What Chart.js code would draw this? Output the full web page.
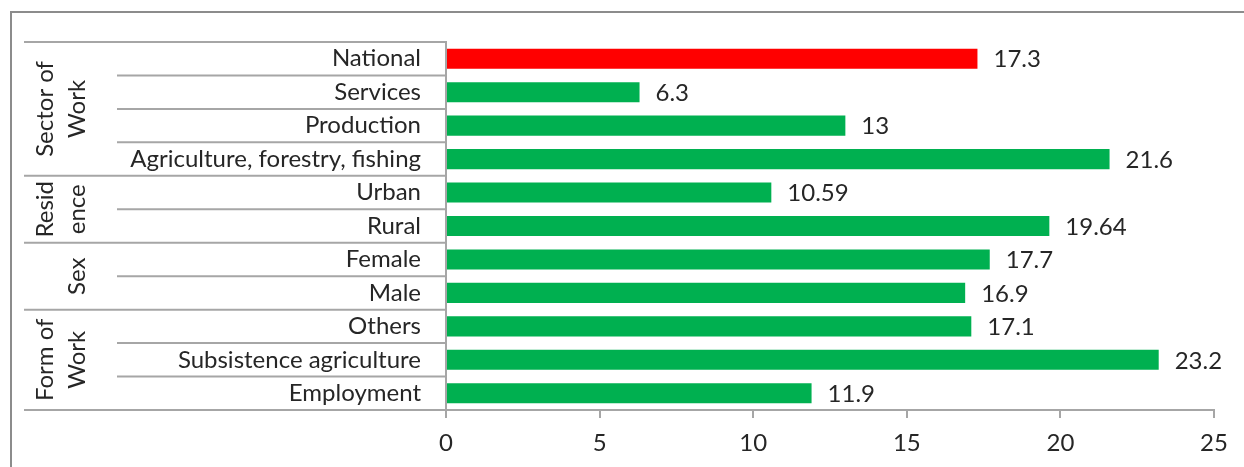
<!DOCTYPE html>
<html>
<head>
<meta charset="utf-8">
<script src="https://cdn.jsdelivr.net/npm/chart.js@4.4.0/dist/chart.umd.min.js"></script>
<style>
  html, body { margin: 0; padding: 0; background: #fff; }
  #wrap { position: relative; width: 1244px; height: 467px; }
</style>
</head>
<body>
<div id="wrap"><canvas id="myChart"></canvas></div>
<script>
const categories = ["National", "Services", "Production", "Agriculture, forestry, fishing",
  "Urban", "Rural", "Female", "Male", "Others", "Subsistence agriculture", "Employment"];
const values = [17.3, 6.3, 13, 21.6, 10.59, 19.64, 17.7, 16.9, 17.1, 23.2, 11.9];
const barColors = ["#FF0000", "#00B050", "#00B050", "#00B050", "#00B050", "#00B050",
  "#00B050", "#00B050", "#00B050", "#00B050", "#00B050"];
const xTicks = [0, 5, 10, 15, 20, 25];
// group name, first row, row count
const groupNames = ["Sector of\nWork", "Resid\nence", "\nSex", "Form of\nWork"];
const groupStart = [0, 4, 6, 8];
const groupSize = [4, 2, 2, 3];

const font = "Lato, 'Liberation Sans', sans-serif";
const fontSize = 24;
const lineColor = "#a6a6a6";

const extras = {
  id: "extras",
  afterDraw(chart) {
    const ctx = chart.ctx;
    const y = chart.scales.y;
    const area = chart.chartArea;
    const step = (area.bottom - area.top) / categories.length;
    ctx.save();
    // outer frame
    ctx.strokeStyle = "#8c8c8c";
    ctx.lineWidth = 2;
    ctx.beginPath();
    ctx.moveTo(11, 467);
    ctx.lineTo(11, 12);
    ctx.lineTo(1244, 12);
    ctx.stroke();

    // row separators
    ctx.strokeStyle = lineColor;
    ctx.lineWidth = 2;
    for (let i = 0; i <= categories.length; i++) {
      const yy = y.getPixelForValue(i) - step / 2;
      const isGroupEdge = i === categories.length || groupStart.includes(i);
      ctx.beginPath();
      ctx.moveTo(isGroupEdge ? 24 : 117, yy);
      ctx.lineTo(area.left, yy);
      ctx.stroke();
    }

    // group labels, rotated
    ctx.fillStyle = "#262626";
    ctx.font = fontSize + "px " + font;
    ctx.textAlign = "center";
    ctx.textBaseline = "middle";
    for (let g = 0; g < groupNames.length; g++) {
      const top = y.getPixelForValue(groupStart[g]) - step / 2;
      const bottom = top + groupSize[g] * step;
      const lines = groupNames[g].split("\n");
      ctx.save();
      ctx.translate(61, (top + bottom) / 2);
      ctx.rotate(-Math.PI / 2);
      lines.forEach((t, k) => {
        ctx.fillText(t, 0, (k - (lines.length - 1) / 2) * 32);
      });
      ctx.restore();
    }

    // value labels
    ctx.textAlign = "left";
    const meta = chart.getDatasetMeta(0);
    meta.data.forEach((bar, i) => {
      ctx.fillText(String(values[i]), bar.x + 16, bar.y + 1);
    });
    ctx.restore();
  }
};

new Chart("myChart", {
  type: "bar",
  data: {
    labels: categories,
    datasets: [{
      data: values,
      backgroundColor: barColors,
      borderWidth: 0,
      categoryPercentage: 1,
      barPercentage: 0.6
    }]
  },
  options: {
    indexAxis: "y",
    responsive: true,
    maintainAspectRatio: false,
    animation: false,
    layout: { padding: { top: 42, right: 30, left: 0, bottom: 0 } },
    plugins: { legend: { display: false }, tooltip: { enabled: false } },
    scales: {
      x: {
        min: 0,
        max: 25,
        afterBuildTicks: (s) => { s.ticks = xTicks.map(v => ({ value: v })); },
        afterFit: (s) => { s.height = 57; },
        grid: { drawOnChartArea: false, drawTicks: true, tickLength: 8, color: lineColor, lineWidth: 2 },
        border: { color: lineColor, width: 2 },
        ticks: { color: "#262626", font: { family: font, size: fontSize }, padding: 11 }
      },
      y: {
        afterFit: (s) => { s.width = 446; },
        grid: { display: false, drawTicks: false },
        border: { color: lineColor, width: 2 },
        ticks: { color: "#262626", font: { family: font, size: fontSize }, padding: 25 }
      }
    }
  },
  plugins: [extras]
});
</script>
</body>
</html>
